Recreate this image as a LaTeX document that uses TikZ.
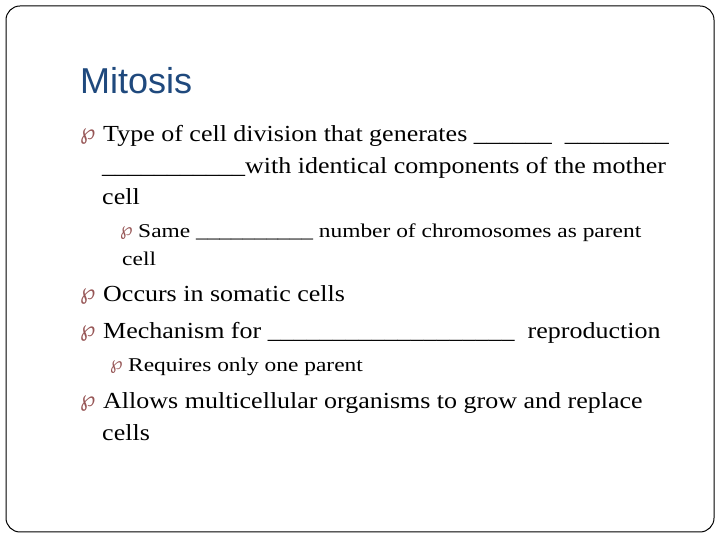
\documentclass[tikz,border=0pt]{standalone}
\usepackage{fontspec}
\setmainfont{Liberation Serif}
\newfontfamily\titlefont{Liberation Sans}
\newfontfamily\bulfont{DejaVu Sans}
\begin{document}
\begin{tikzpicture}[x=1pt,y=1pt,
  ln/.style={anchor=base west,inner sep=0pt,transform shape,xscale=1.13,font=\fontsize{23}{23}\selectfont},
  sl/.style={anchor=base west,inner sep=0pt,transform shape,xscale=1.2,font=\fontsize{19.5}{20}\selectfont},
  bul/.style={anchor=base west,inner sep=0pt,text={rgb,255:red,150;green,85;blue,85}}]
\useasboundingbox (0,0) rectangle (720,540);
\draw[line width=1pt,rounded corners=14pt] (6,8) rectangle (714,534);
\node[anchor=base west,inner sep=0pt,text={rgb,255:red,31;green,73;blue,125},font=\titlefont\fontsize{36}{36}\selectfont] (t) at (80,446) {Mitosis};
\node[bul,font=\bulfont\fontsize{22}{22}\selectfont] (b1) at (80,400) {℘};
\node[ln] (l1) at (103,398) {Type of cell division that generates \_\_\_\_\_\_\ \ \_\_\_\_\_\_\_\_};
\node[ln] (l2) at (102,366) {\_\_\_\_\_\_\_\_\_\_\_with identical components of the mother};
\node[ln] (l3) at (102,335) {cell};
\node[bul,font=\bulfont\fontsize{18}{18}\selectfont] (b2) at (120,304) {℘};
\node[sl] (s1) at (138,302) {Same \_\_\_\_\_\_\_\_\_\_ number of chromosomes as parent};
\node[sl] (s2) at (122,274) {cell};
\node[bul,font=\bulfont\fontsize{22}{22}\selectfont] (b3) at (80,240) {℘};
\node[ln] (l4) at (103,238) {Occurs in somatic cells};
\node[bul,font=\bulfont\fontsize{22}{22}\selectfont] (b4) at (80,203) {℘};
\node[ln] (l5) at (103,201) {Mechanism for \_\_\_\_\_\_\_\_\_\_\_\_\_\_\_\_\_\_\_\ \ reproduction};
\node[bul,font=\bulfont\fontsize{18}{18}\selectfont] (b5) at (110,170) {℘};
\node[sl] (s3) at (128,168) {Requires only one parent};
\node[bul,font=\bulfont\fontsize{22}{22}\selectfont] (b6) at (80,133) {℘};
\node[ln] (l6) at (103,131) {Allows multicellular organisms to grow and replace};
\node[ln] (l7) at (102,99) {cells};
\end{tikzpicture}
\end{document}
